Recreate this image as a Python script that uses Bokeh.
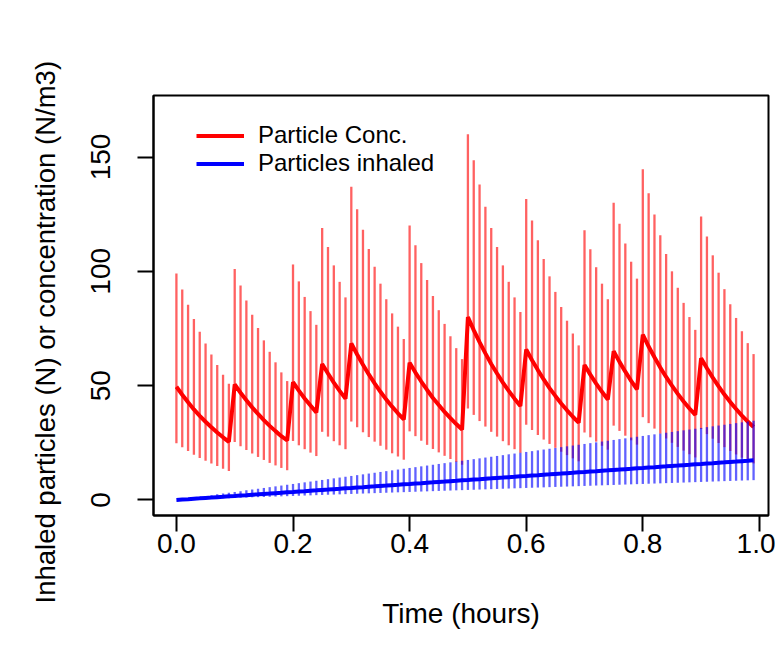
from bokeh.plotting import figure
from bokeh.models import Range1d, FixedTicker, PrintfTickFormatter, Legend, LegendItem, Title
from bokeh.embed import file_html
from bokeh.resources import INLINE

# time grid (hours), one sample every 0.01 h
times = [round(i * 0.01, 2) for i in range(100)]

# particle concentration (N/m3), mean
conc = [
    49.5, 46.0, 42.7, 39.6, 36.8, 34.2, 31.8, 29.5, 27.4, 25.4,
    50.5, 46.9, 43.6, 40.5, 37.6, 34.9, 32.4, 30.1, 27.9, 26.0,
    51.5, 47.8, 44.4, 41.3, 38.3, 59.5, 55.3, 51.3, 47.7, 44.3,
    68.5, 63.6, 59.1, 54.9, 51.0, 47.3, 43.9, 40.8, 37.9, 35.2,
    60.0, 55.7, 51.8, 48.1, 44.6, 41.5, 38.5, 35.8, 33.2, 30.8,
    80.0, 74.3, 69.0, 64.1, 59.5, 55.3, 51.3, 47.7, 44.3, 41.1,
    65.8, 61.1, 56.8, 52.7, 48.9, 45.5, 42.2, 39.2, 36.4, 33.8,
    59.0, 54.8, 50.9, 47.3, 43.9, 65.0, 60.4, 56.1, 52.1, 48.4,
    72.3, 67.1, 62.4, 57.9, 53.8, 50.0, 46.4, 43.1, 40.0, 37.2,
    62.0, 57.6, 53.5, 49.7, 46.1, 42.8, 39.8, 36.9, 34.3, 31.9,
]
# concentration range, low end
conc_lo = [
    24.8, 23.0, 21.4, 19.8, 18.4, 17.1, 15.9, 14.8, 13.7, 12.7,
    25.3, 23.5, 21.8, 20.3, 18.8, 17.5, 16.2, 15.1, 14.0, 13.0,
    25.8, 23.9, 22.2, 20.7, 19.2, 29.8, 27.7, 25.7, 23.9, 22.2,
    34.3, 31.8, 29.6, 27.5, 25.5, 23.7, 22.0, 20.4, 19.0, 17.6,
    30.0, 27.9, 25.9, 24.1, 22.3, 20.8, 19.3, 17.9, 16.6, 15.4,
    40.0, 37.2, 34.5, 32.1, 29.8, 27.7, 25.7, 23.9, 22.2, 20.6,
    32.9, 30.6, 28.4, 26.4, 24.5, 22.8, 21.1, 19.6, 18.2, 16.9,
    29.5, 27.4, 25.5, 23.7, 22.0, 32.5, 30.2, 28.1, 26.1, 24.2,
    36.2, 33.6, 31.2, 29.0, 26.9, 25.0, 23.2, 21.6, 20.0, 18.6,
    31.0, 28.8, 26.8, 24.9, 23.1, 21.4, 19.9, 18.5, 17.2, 16.0,
]
# concentration range, high end
conc_hi = [
    99.0, 92.0, 85.4, 79.2, 73.6, 68.4, 63.6, 59.0, 54.8, 50.8,
    101.0, 93.8, 87.2, 81.0, 75.2, 69.8, 64.8, 60.2, 55.8, 52.0,
    103.0, 95.6, 88.8, 82.6, 76.6, 119.0, 110.6, 102.6, 95.4, 88.6,
    137.0, 127.2, 118.2, 109.8, 102.0, 94.6, 87.8, 81.6, 75.8, 70.4,
    120.0, 111.4, 103.6, 96.2, 89.2, 83.0, 77.0, 71.6, 66.4, 61.6,
    160.0, 148.6, 138.0, 128.2, 119.0, 110.6, 102.6, 95.4, 88.6, 82.2,
    131.6, 122.2, 113.6, 105.4, 97.8, 91.0, 84.4, 78.4, 72.8, 67.6,
    118.0, 109.6, 101.8, 94.6, 87.8, 130.0, 120.8, 112.2, 104.2, 96.8,
    144.6, 134.2, 124.8, 115.8, 107.6, 100.0, 92.8, 86.2, 80.0, 74.4,
    124.0, 115.2, 107.0, 99.4, 92.2, 85.6, 79.6, 73.8, 68.6, 63.8,
]

# cumulative inhaled particles (N), mean
inhaled = [
    0.00, 0.18, 0.35, 0.53, 0.70, 0.88, 1.05, 1.23, 1.40, 1.58,
    1.75, 1.93, 2.10, 2.28, 2.45, 2.63, 2.80, 2.98, 3.15, 3.33,
    3.50, 3.68, 3.85, 4.03, 4.20, 4.38, 4.55, 4.73, 4.90, 5.08,
    5.25, 5.43, 5.60, 5.78, 5.95, 6.13, 6.30, 6.48, 6.65, 6.83,
    7.00, 7.18, 7.35, 7.53, 7.70, 7.88, 8.05, 8.23, 8.40, 8.58,
    8.75, 8.93, 9.10, 9.28, 9.45, 9.63, 9.80, 9.98, 10.15, 10.33,
    10.50, 10.68, 10.85, 11.03, 11.20, 11.38, 11.55, 11.73, 11.90, 12.08,
    12.25, 12.43, 12.60, 12.78, 12.95, 13.13, 13.30, 13.48, 13.65, 13.83,
    14.00, 14.18, 14.35, 14.53, 14.70, 14.88, 15.05, 15.23, 15.40, 15.58,
    15.75, 15.93, 16.10, 16.28, 16.45, 16.63, 16.80, 16.98, 17.15, 17.33,
]
inhaled_lo = [
    0.00, 0.09, 0.18, 0.26, 0.35, 0.44, 0.53, 0.61, 0.70, 0.79,
    0.88, 0.96, 1.05, 1.14, 1.23, 1.31, 1.40, 1.49, 1.58, 1.66,
    1.75, 1.84, 1.93, 2.01, 2.10, 2.19, 2.28, 2.36, 2.45, 2.54,
    2.63, 2.71, 2.80, 2.89, 2.98, 3.06, 3.15, 3.24, 3.33, 3.41,
    3.50, 3.59, 3.68, 3.76, 3.85, 3.94, 4.03, 4.11, 4.20, 4.29,
    4.38, 4.46, 4.55, 4.64, 4.73, 4.81, 4.90, 4.99, 5.08, 5.16,
    5.25, 5.34, 5.43, 5.51, 5.60, 5.69, 5.78, 5.86, 5.95, 6.04,
    6.13, 6.21, 6.30, 6.39, 6.48, 6.56, 6.65, 6.74, 6.83, 6.91,
    7.00, 7.09, 7.18, 7.26, 7.35, 7.44, 7.53, 7.61, 7.70, 7.79,
    7.88, 7.96, 8.05, 8.14, 8.23, 8.31, 8.40, 8.49, 8.58, 8.66,
]
inhaled_hi = [
    0.00, 0.35, 0.70, 1.05, 1.40, 1.75, 2.10, 2.45, 2.80, 3.15,
    3.50, 3.85, 4.20, 4.55, 4.90, 5.25, 5.60, 5.95, 6.30, 6.65,
    7.00, 7.35, 7.70, 8.05, 8.40, 8.75, 9.10, 9.45, 9.80, 10.15,
    10.50, 10.85, 11.20, 11.55, 11.90, 12.25, 12.60, 12.95, 13.30, 13.65,
    14.00, 14.35, 14.70, 15.05, 15.40, 15.75, 16.10, 16.45, 16.80, 17.15,
    17.50, 17.85, 18.20, 18.55, 18.90, 19.25, 19.60, 19.95, 20.30, 20.65,
    21.00, 21.35, 21.70, 22.05, 22.40, 22.75, 23.10, 23.45, 23.80, 24.15,
    24.50, 24.85, 25.20, 25.55, 25.90, 26.25, 26.60, 26.95, 27.30, 27.65,
    28.00, 28.35, 28.70, 29.05, 29.40, 29.75, 30.10, 30.45, 30.80, 31.15,
    31.50, 31.85, 32.20, 32.55, 32.90, 33.25, 33.60, 33.95, 34.30, 34.65,
]

x_ticks = [0.0, 0.2, 0.4, 0.6, 0.8, 1.0]
y_ticks = [0, 50, 100, 150]
series_names = ["Particle Conc.", "Particles inhaled"]
y_title = "Inhaled particles (N) or concentration (N/m3)"

FONT = "Liberation Sans"

p = figure(
    frame_width=615, frame_height=420,
    min_border_left=153, min_border_right=7, min_border_top=95, min_border_bottom=134,
    x_range=Range1d(-0.0393, 1.0156), y_range=Range1d(-6.8, 176.9),
    output_backend="svg", toolbar_location=None,
    background_fill_color="white", border_fill_color="white",
)
p.xgrid.visible = False
p.ygrid.visible = False
p.outline_line_color = "black"
p.outline_line_width = 2

p.segment(x0=times, y0=conc_lo, x1=times, y1=conc_hi,
          line_color="red", line_alpha=0.62, line_width=2.3)
red_line = p.line(times, conc, line_color="red", line_width=4)
p.segment(x0=times, y0=inhaled_lo, x1=times, y1=inhaled_hi,
          line_color="blue", line_alpha=0.62, line_width=2.3)
blue_line = p.line(times, inhaled, line_color="blue", line_width=4)

for ax in (p.xaxis[0], p.yaxis[0]):
    ax.minor_tick_line_color = None
    ax.major_tick_in = 0
    ax.major_tick_out = 16
    ax.major_tick_line_width = 2
    ax.axis_line_width = 2
    ax.major_label_text_font = FONT
    ax.major_label_text_font_size = "28px"
    ax.major_label_text_color = "black"
    ax.axis_label_text_font = FONT
    ax.axis_label_text_font_size = "28px"
    ax.axis_label_text_font_style = "normal"
    ax.axis_label_text_color = "black"

p.xaxis.ticker = FixedTicker(ticks=x_ticks)
p.xaxis.formatter = PrintfTickFormatter(format="%.1f")
p.xaxis.axis_label = "Time (hours)"
p.xaxis.major_label_standoff = 2
p.xaxis.axis_label_standoff = 42

p.yaxis.ticker = FixedTicker(ticks=y_ticks)
p.yaxis.major_label_orientation = "vertical"
p.yaxis.major_label_standoff = 27

ytitle = Title(
    text=y_title, align="left", offset=-88, standoff=55,
    text_font=FONT, text_font_size="27.5px", text_font_style="normal", text_color="black",
)
p.add_layout(ytitle, "left")

legend = Legend(
    items=[LegendItem(label=series_names[0], renderers=[red_line]),
           LegendItem(label=series_names[1], renderers=[blue_line])],
    location=(43, 338), orientation="vertical",
    padding=0, spacing=0, margin=0,
    glyph_width=48, glyph_height=27, label_height=27, label_standoff=14,
    label_text_font=FONT, label_text_font_size="24px", label_text_color="black",
    background_fill_alpha=0, border_line_alpha=0,
)
p.add_layout(legend)

open("out.html", "w").write(file_html(p, INLINE))
